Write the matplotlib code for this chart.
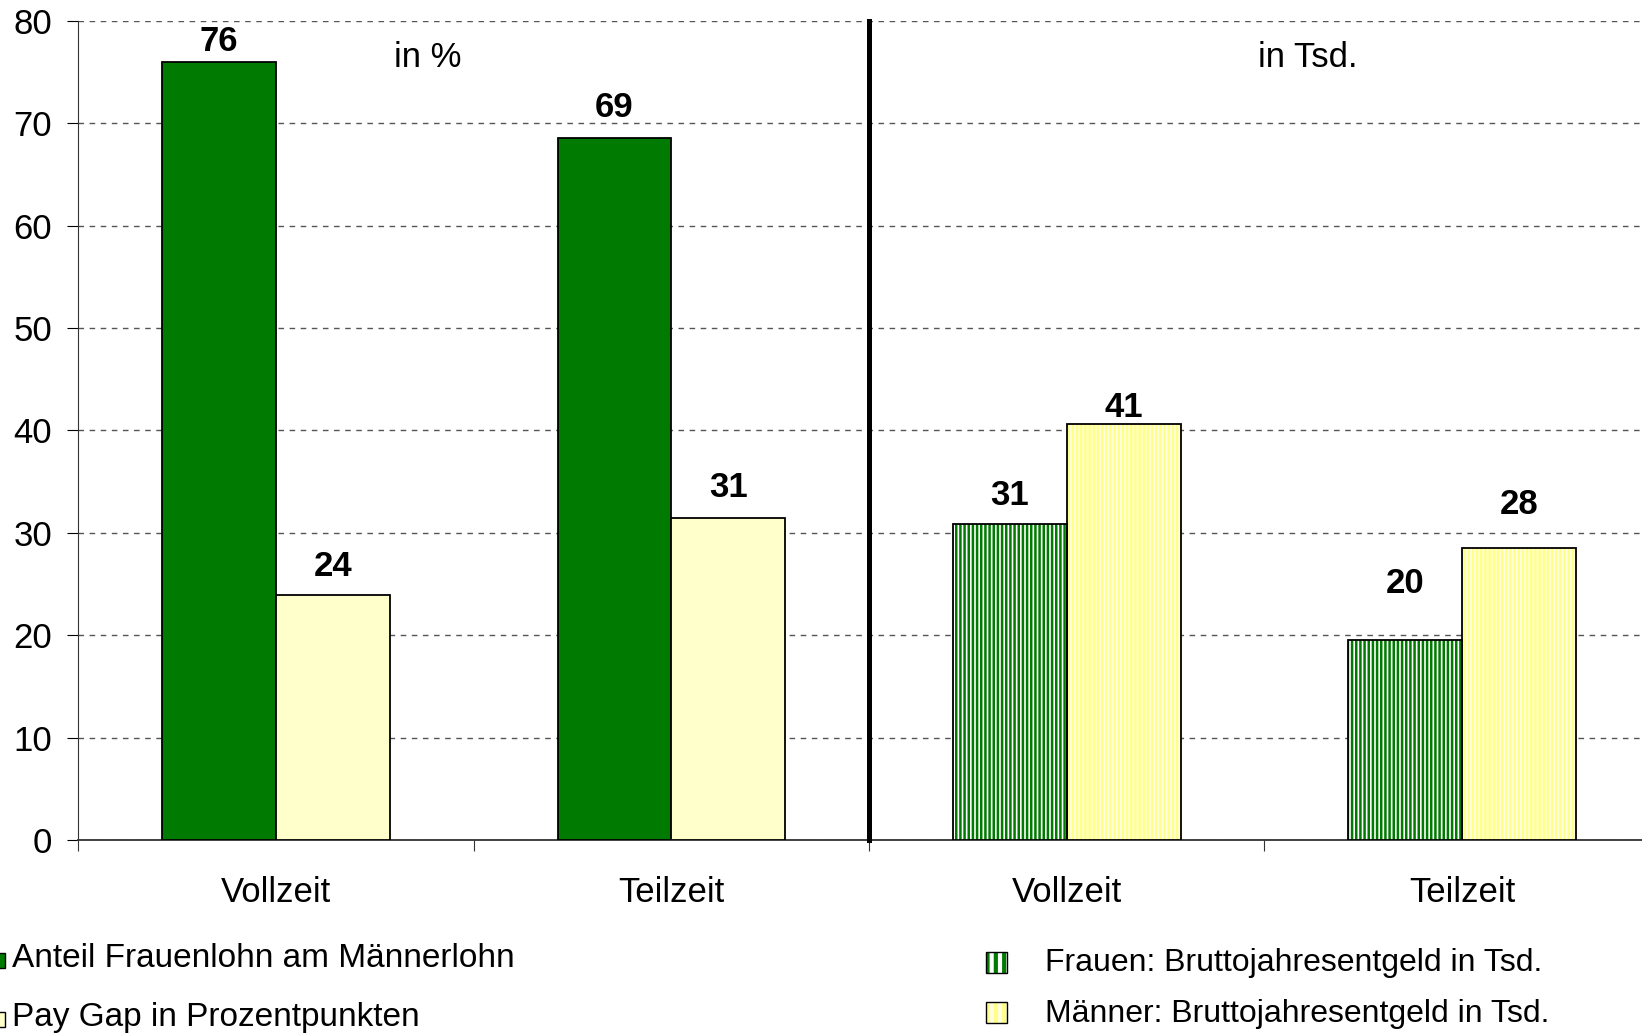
import matplotlib
matplotlib.use("Agg")
import matplotlib.pyplot as plt
from matplotlib.patches import Rectangle
import numpy as np

plt.rcParams['font.family'] = ['Liberation Sans', 'DejaVu Sans']

categories = ["Vollzeit", "Teilzeit", "Vollzeit", "Teilzeit"]
# left panel (in %)
anteil = [76.0, 68.6]
paygap = [23.9, 31.4]
# right panel (in Tsd.)
frauen = [30.9, 19.5]
maenner = [40.6, 28.5]
label_anteil = ["76", "69"]
label_paygap = ["24", "31"]
label_frauen = ["31", "20"]
label_maenner = ["41", "28"]
label_y_anteil = [78.0, 71.5]
label_y_paygap = [26.7, 34.4]
label_y_frauen = [33.6, 25.0]
label_y_maenner = [42.2, 32.8]
yticks = [0, 10, 20, 30, 40, 50, 60, 70, 80]
legend_left = ["Anteil Frauenlohn am Männerlohn", "Pay Gap in Prozentpunkten"]
legend_right = ["Frauen: Bruttojahresentgeld in Tsd.", "Männer: Bruttojahresentgeld in Tsd."]

GREEN = "#007a00"
PALE = "#ffffcc"
YFACE = "#ffffe0"
YHATCH = "#ffff8c"

plt.rcParams['hatch.linewidth'] = 1.8

fig = plt.figure(figsize=(16.42, 10.36), dpi=100)
ax = fig.add_axes([0.0478, 0.1893, 1 - 0.0478, 0.9798 - 0.1893])

centers = np.arange(4) + 0.5
w = 0.288
FS = 25

# left: solid bars
lc = centers[:2]
ax.bar(lc - w / 2, anteil, w, color=GREEN, edgecolor="black", linewidth=1.3, zorder=3)
ax.bar(lc + w / 2, paygap, w, color=PALE, edgecolor="black", linewidth=1.3, zorder=3)
for x, y, t in zip(lc - w / 2, label_y_anteil, label_anteil):
    ax.text(x, y, t, ha="center", va="center", fontsize=FS, fontweight="bold")
for x, y, t in zip(lc + w / 2, label_y_paygap, label_paygap):
    ax.text(x, y, t, ha="center", va="center", fontsize=FS, fontweight="bold")

# right: hatched bars
rc = centers[2:]
ax.bar(rc - w / 2, frauen, w, color="white", edgecolor=GREEN, hatch="||||", linewidth=0, zorder=3)
ax.bar(rc - w / 2, frauen, w, fill=False, edgecolor="black", linewidth=1.3, zorder=4)
ax.bar(rc + w / 2, maenner, w, color=YFACE, edgecolor=YHATCH, hatch="||||", linewidth=0, zorder=3)
ax.bar(rc + w / 2, maenner, w, fill=False, edgecolor="black", linewidth=1.3, zorder=4)
for x, y, t in zip(rc - w / 2, label_y_frauen, label_frauen):
    ax.text(x, y, t, ha="center", va="center", fontsize=FS, fontweight="bold")
for x, y, t in zip(rc + w / 2, label_y_maenner, label_maenner):
    ax.text(x, y, t, ha="center", va="center", fontsize=FS, fontweight="bold")

ax.text(0.883, 76.4, "in %", ha="center", va="center", fontsize=FS)
ax.text(3.11, 76.4, "in Tsd.", ha="center", va="center", fontsize=FS)

ax.axvline(2, color="black", linewidth=3.6, zorder=5, clip_on=False)

ax.set_yticks(yticks)
ax.set_yticklabels([str(v) for v in yticks], fontsize=FS)
ax.yaxis.grid(True, linestyle=(0, (4, 4)), color="#555555", linewidth=1.0, zorder=0)
ax.set_axisbelow(True)
ax.set_xticks([0, 1, 2, 3, 4])
ax.set_xticklabels([])
ax.set_xticks(centers, minor=True)
ax.set_xticklabels(categories, minor=True, fontsize=FS)
ax.set_ylim(0, 80)
ax.set_xlim(0, 3.955)
ax.tick_params(axis="x", which="minor", length=0, pad=26)
ax.tick_params(axis="x", which="major", length=8, color="#333333")
ax.tick_params(axis="y", length=8, pad=11)
for s in ["top", "right"]:
    ax.spines[s].set_visible(False)
ax.spines["left"].set_color("#333333")
ax.spines["bottom"].set_color("#333333")
ax.spines["bottom"].set_linewidth(1.3)

# legends
def fig_square(x, y, size_px, fc, hatch=None, hc=None, hlw=None):
    W, H = fig.get_size_inches() * fig.dpi
    if hatch:
        r = Rectangle((x, y), size_px / W, size_px / H, transform=fig.transFigure,
                      facecolor=fc, edgecolor=hc, hatch=hatch, linewidth=0)
        if hlw is not None and hasattr(r, "set_hatch_linewidth"):
            r.set_hatch_linewidth(hlw)
        fig.add_artist(r)
    fig.add_artist(Rectangle((x, y), size_px / W, size_px / H, transform=fig.transFigure,
                             facecolor="none" if hatch else fc, edgecolor="black", linewidth=1.0))

fig_square(-0.006, 0.066, 15, GREEN)
fig_square(-0.006, 0.009, 15, PALE)
fig.text(0.0075, 0.0745, legend_left[0], fontsize=24, va="center")
fig.text(0.0075, 0.0175, legend_left[1], fontsize=24, va="center")

fig_square(0.6005, 0.061, 21, "white", hatch="||", hc=GREEN, hlw=3.0)
fig_square(0.6005, 0.0125, 21, YFACE, hatch="||", hc="#ffff88", hlw=3.0)
fig.text(0.6365, 0.0705, legend_right[0], fontsize=23, va="center")
fig.text(0.6365, 0.0215, legend_right[1], fontsize=23, va="center")

fig.savefig("out.png", dpi=100)
